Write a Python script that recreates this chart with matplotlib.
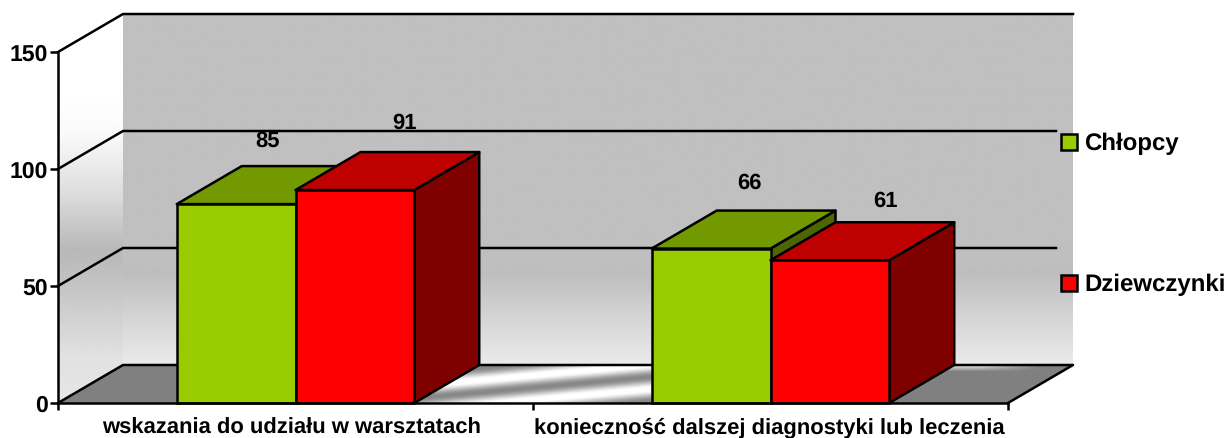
import matplotlib
matplotlib.use('Agg')
import matplotlib.pyplot as plt
import numpy as np
from matplotlib.patches import Polygon, Patch

categories = ['wskazania do udziału w warsztatach', 'konieczność dalszej diagnostyki lub leczenia']
chlopcy = [85, 66]
dziewczynki = [91, 61]
y_ticks = [0, 50, 100, 150]

plt.rcParams['font.family'] = ['Liberation Sans', 'DejaVu Sans']
plt.rcParams['font.weight'] = 'bold'
plt.rcParams['text.hinting'] = 'no_hinting'
plt.rcParams['text.hinting_factor'] = 1

W, H = 1226, 438
X0, X1, Y0, Y150 = 58, 1008, 403, 52
PX_X = (X1 - X0) / 2.0      # pixels per category
PX_Y = (Y0 - Y150) / 150.0  # pixels per value unit
DX = 65 / PX_X              # depth of the fake 3d box
DY = 38 / PX_Y
BAR_W = 0.25
LW = 1.8

fig = plt.figure(figsize=(W / 100, H / 100), dpi=100)
ax = fig.add_axes([X0 / W, 1 - Y0 / H, (X1 - X0) / W, (Y0 - Y150) / H])


def grad_image(poly, extent, img, z):
    im = ax.imshow(img, extent=extent, origin='lower', aspect='auto', cmap='gray',
                   vmin=0, vmax=255, zorder=z, interpolation='bilinear')
    patch = Polygon(poly, closed=True, transform=ax.transData, fill=False, edgecolor='none')
    ax.add_patch(patch)
    im.set_clip_box(fig.bbox)
    im.set_clip_path(patch)


vals = np.linspace(-DY, 150 + DY, 400)

# back wall
wall_x = 2 + DX
back = np.interp(vals, [DY, 35, 55, 75, 166], [234, 214, 190, 192, 192])
grad_image([(DX, DY), (wall_x, DY), (wall_x, 150 + DY), (DX, 150 + DY)],
           (DX, wall_x, -DY, 150 + DY), back[:, None], 1)

# side wall, shaded along the vertical
side = np.interp(vals, [-16, 20, 50, 65, 90, 115, 135, 166], [234, 225, 196, 184, 222, 250, 255, 255])
grad_image([(0, 0), (DX, DY), (DX, 150 + DY), (0, 150)],
           (0, DX, -DY, 150 + DY), side[:, None], 1)

# floor, grey with a diagonal shine between the two groups
fx = np.linspace(0, wall_x, 900)
fy = np.linspace(0, DY, 90)
gx, gy = np.meshgrid(fx, fy)
px = X0 + gx * PX_X
py = Y0 - gy * PX_Y
s = py + 0.09 * (px - 500)
wave = 191 + 64 * np.cos((s - 379) * 2 * np.pi / 24)
wave = np.clip(wave + 8, 128, 255)
floor = np.where((px > 380) & (px < 700), wave, 128.0)
glow = np.clip((372 - py) / 6, 0, 1) * np.clip((1040 - px) / 60, 0, 1) * (px > 900)
floor = floor + glow * 110
grad_image([(0, 0), (2, 0), (wall_x, DY), (DX, DY)], (0, wall_x, 0, DY), floor, 1)

# box outline and gridlines
grid_end = (1056 - X0) / PX_X
ax.plot([0, DX, wall_x], [150, 150 + DY, 150 + DY], color='black', lw=LW, zorder=2, clip_on=False)
ax.plot([0, DX, wall_x, 2], [0, DY, DY, 0], color='black', lw=LW, zorder=2, clip_on=False)
for v in y_ticks[1:-1]:
    ax.plot([0, DX, grid_end], [v, v + DY, v + DY], color='black', lw=LW, zorder=2, clip_on=False)

series = [
    (chlopcy, -BAR_W / 2, '#99CC00', '#739900', '#4D6600'),
    (dziewczynki, BAR_W / 2, '#FF0000', '#BF0000', '#800000'),
]

z = 3
for i in range(len(categories)):
    for values, off, front, top, right in series:
        c = i + 0.5 + off
        l, r = c - BAR_W / 2, c + BAR_W / 2
        v = values[i]
        ax.add_patch(Polygon([(r, 0), (r + DX, DY), (r + DX, v + DY), (r, v)], closed=True,
                             facecolor=right, edgecolor='black', lw=LW, zorder=z, clip_on=False, joinstyle='round'))
        ax.add_patch(Polygon([(l, v), (l + DX, v + DY), (r + DX, v + DY), (r, v)], closed=True,
                             facecolor=top, edgecolor='black', lw=LW, zorder=z, clip_on=False, joinstyle='round'))
        ax.bar(c, v, width=BAR_W, color=front, edgecolor='black', lw=LW, zorder=z, clip_on=False)
        z += 1

# data labels were moved by hand in the original, offsets in pixels from bar top centre
label_off = {0: [(31, 63), (50, 67)], 1: [(38, 65), (56, 59)]}
for i in range(len(categories)):
    for j, (values, off, *_) in enumerate(series):
        ox, oy = label_off[i][j]
        ax.annotate(str(values[i]), (i + 0.5 + off, values[i]), xytext=(ox * 0.72, oy * 0.72),
                    textcoords='offset points', ha='center', va='center', zorder=20, fontsize=15.7)

ax.set_xlim(0, 2)
ax.set_ylim(0, 150)
ax.set_facecolor('none')
for name in ['top', 'right']:
    ax.spines[name].set_visible(False)
for name in ['left', 'bottom']:
    ax.spines[name].set_linewidth(LW)
    ax.spines[name].set_zorder(15)
ax.set_yticks(y_ticks)
ax.set_yticklabels(y_ticks, fontsize=16.3)
ax.set_xticks([0, 1, 2])
ax.set_xticklabels([])
ax.set_xticks([0.492, 1.498], minor=True)
ax.set_xticklabels(categories, minor=True, fontsize=15.7)
ax.tick_params(axis='x', which='minor', length=0, pad=10.5)
ax.tick_params(axis='x', which='major', length=5, width=LW)
ax.tick_params(axis='y', length=6, width=LW, pad=1)

handles = [Patch(facecolor='#99CC00', edgecolor='black', lw=LW, label='Chłopcy'),
           Patch(facecolor='#FF0000', edgecolor='black', lw=LW, label='Dziewczynki')]
fig.legend(handles=handles, loc='center left', bbox_to_anchor=(1049 / W, 1 - 214.5 / H), frameon=False,
           handlelength=0.67, handleheight=0.67, handletextpad=0.3, labelspacing=4.97, borderpad=0, fontsize=17.2)

fig.savefig('out.png', dpi=100)
